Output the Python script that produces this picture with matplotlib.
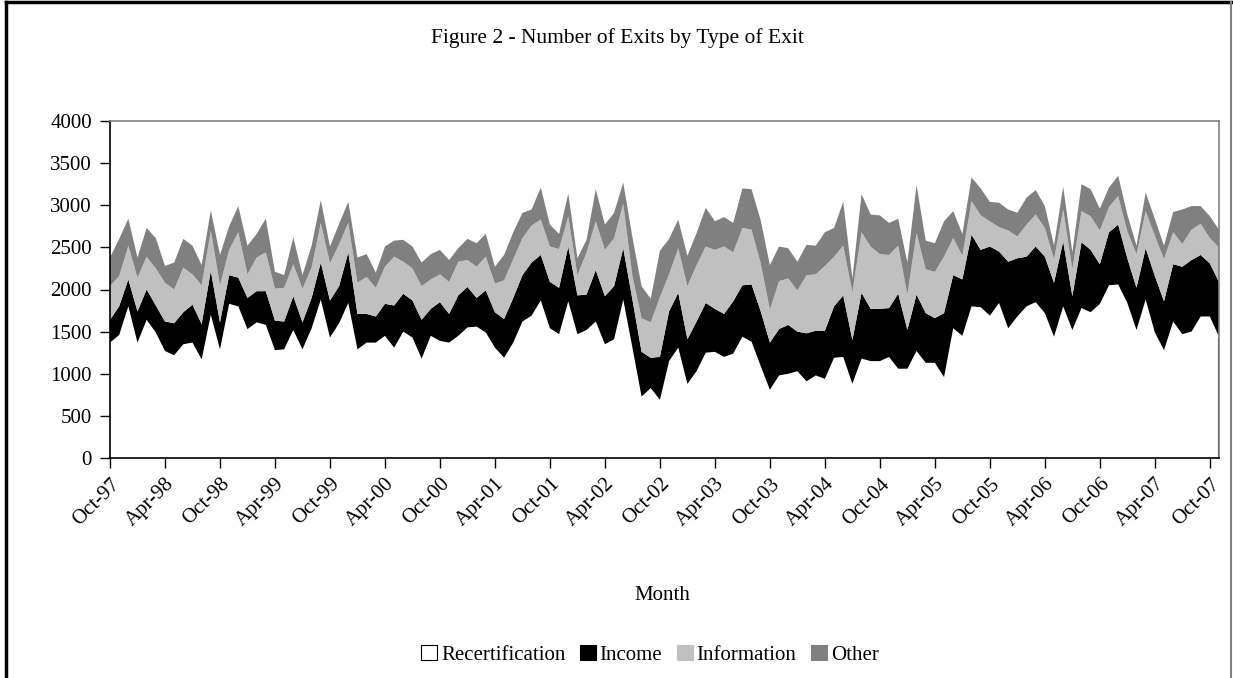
import numpy as np
import pandas as pd
import matplotlib.pyplot as plt
from matplotlib.patches import Patch
from matplotlib.lines import Line2D

plt.rcParams["font.family"] = ["Liberation Serif", "DejaVu Serif"]

# Monthly exits, Oct-97 to Nov-07
months = pd.date_range("1997-10-01", periods=122, freq="MS")

recert = [
    1370, 1460, 1800, 1370, 1640, 1490, 1270, 1220, 1350, 1370, 1170, 1700, 1290, 1830, 1800, 1530, 1610, 1580, 1280, 1290,
    1520, 1290, 1540, 1880, 1430, 1600, 1840, 1290, 1370, 1370, 1450, 1310, 1500, 1430, 1180, 1450, 1390, 1370, 1450, 1550,
    1560, 1490, 1310, 1190, 1370, 1620, 1690, 1870, 1540, 1470, 1860, 1470, 1520, 1620, 1350, 1410, 1880, 1310, 730, 830,
    690, 1150, 1310, 880, 1030, 1250, 1260, 1200, 1240, 1440, 1380, 1090, 810, 980, 1000, 1030, 910, 980, 940, 1190,
    1200, 880, 1180, 1150, 1150, 1200, 1060, 1060, 1270, 1130, 1130, 960, 1540, 1450, 1800, 1790, 1690, 1840, 1540, 1680,
    1800, 1850, 1720, 1440, 1800, 1520, 1780, 1730, 1830, 2050, 2060, 1840, 1520, 1880, 1490, 1280, 1620, 1470, 1500, 1680,
    1680, 1440,
]
income = [
    270, 340, 320, 370, 360, 320, 350, 380, 380, 450, 420, 520, 320, 340, 340, 370, 370, 400, 350, 330,
    400, 320, 360, 440, 440, 440, 600, 420, 340, 310, 380, 500, 450, 440, 460, 320, 460, 340, 480, 480,
    340, 500, 420, 460, 530, 550, 630, 540, 550, 550, 650, 460, 420, 610, 570, 630, 610, 570, 530, 360,
    510, 590, 650, 530, 590, 590, 510, 510, 620, 610, 680, 650, 560, 550, 580, 470, 570, 530, 570, 610,
    730, 520, 780, 620, 620, 580, 890, 460, 670, 590, 530, 760, 630, 670, 850, 680, 820, 610, 790, 690,
    590, 660, 670, 640, 770, 400, 780, 740, 470, 630, 710, 530, 500, 610, 670, 580, 680, 800, 850, 730,
    630, 650,
]
information = [
    400, 360, 400, 400, 390, 440, 460, 400, 530, 360, 460, 480, 440, 300, 540, 280, 400, 460, 380, 400,
    380, 400, 360, 470, 440, 500, 350, 370, 440, 340, 440, 580, 380, 380, 400, 350, 330, 380, 400, 320,
    370, 400, 340, 460, 460, 440, 440, 420, 420, 460, 360, 240, 500, 580, 550, 570, 530, 280, 400, 420,
    710, 440, 530, 630, 670, 670, 700, 800, 580, 680, 650, 570, 390, 570, 550, 490, 690, 670, 770, 590,
    590, 570, 720, 740, 650, 630, 570, 420, 730, 520, 550, 670, 440, 280, 400, 410, 300, 290, 370, 260,
    380, 380, 340, 280, 380, 320, 370, 400, 400, 300, 340, 320, 400, 440, 480, 500, 380, 270, 360, 370,
    300, 410,
]
other = [
    340, 440, 320, 240, 340, 360, 200, 320, 340, 340, 240, 240, 360, 280, 310, 340, 280, 400, 200, 150,
    320, 160, 260, 270, 200, 240, 250, 300, 270, 180, 240, 190, 260, 260, 280, 300, 290, 260, 160, 250,
    280, 270, 200, 300, 320, 300, 190, 380, 260, 180, 270, 200, 150, 380, 300, 300, 250, 460, 380, 280,
    550, 420, 340, 360, 380, 460, 340, 350, 350, 470, 480, 510, 530, 410, 360, 340, 360, 340, 400, 340,
    520, 160, 450, 380, 460, 380, 320, 380, 570, 340, 340, 420, 320, 260, 280, 320, 230, 290, 250, 280,
    320, 290, 260, 160, 270, 200, 320, 320, 260, 230, 240, 200, 100, 220, 200, 160, 240, 410, 280, 210,
    260, 210,
]

series_names = ["Recertification", "Income", "Information", "Other"]
series_colors = ["#FFFFFF", "#000000", "#C0C0C0", "#808080"]

W, H = 1233, 678
fig = plt.figure(figsize=(W / 100, H / 100), dpi=100)
ax = fig.add_axes([110 / W, (H - 458) / H, 1109 / W, 337 / H])

x = np.arange(len(months))
ax.stackplot(x, recert, income, information, other,
             colors=series_colors, linewidth=0, antialiased=True)
# Excel leaves a thin dark edge at the last point
ax.vlines(x[-1], 0, recert[-1], color="black", lw=1.5)

ax.set_xlim(0, len(months) - 1)
ax.set_ylim(0, 4000)
ax.set_yticks(np.arange(0, 4001, 500))
ax.set_xticks(x[::6])
ax.set_xticklabels([m.strftime("%b-%y") for m in months[::6]],
                   rotation=45, ha="right", va="top", rotation_mode="anchor")
ax.tick_params(axis="both", labelsize=15, direction="out", length=7, width=1, color="black")
ax.tick_params(axis="x", pad=5)
ax.tick_params(axis="y", pad=6)

for side in ["top", "right"]:
    ax.spines[side].set_color("#808080")
    ax.spines[side].set_linewidth(1.2)
for side in ["left", "bottom"]:
    ax.spines[side].set_color("black")
    ax.spines[side].set_linewidth(1.2)

fig.text(617 / W, 1 - 38 / H, "Figure 2 - Number of Exits by Type of Exit",
         ha="center", va="center", fontsize=15.5)
fig.text(662 / W, 1 - 596 / H, "Month", ha="center", va="center", fontsize=15)

handles = [Patch(facecolor=c, edgecolor="black" if c == "#FFFFFF" else c, lw=0.8)
           for c in series_colors]
fig.legend(handles, series_names, loc="center", bbox_to_anchor=(650 / W, 1 - 655 / H),
           ncol=4, frameon=False, fontsize=15, handlelength=0.75, handleheight=0.75,
           handletextpad=0.2, columnspacing=0.7)

# chart outer border
fig.add_artist(Line2D([6 / W, 6 / W], [0, 1 - 2 / H], color="black", lw=2.5))
fig.add_artist(Line2D([6 / W, 1231 / W], [1 - 2 / H, 1 - 2 / H], color="black", lw=2.5))
fig.add_artist(Line2D([1231 / W, 1231 / W], [0, 1 - 2 / H], color="#808080", lw=1.5))

fig.savefig("out.png", dpi=100)
